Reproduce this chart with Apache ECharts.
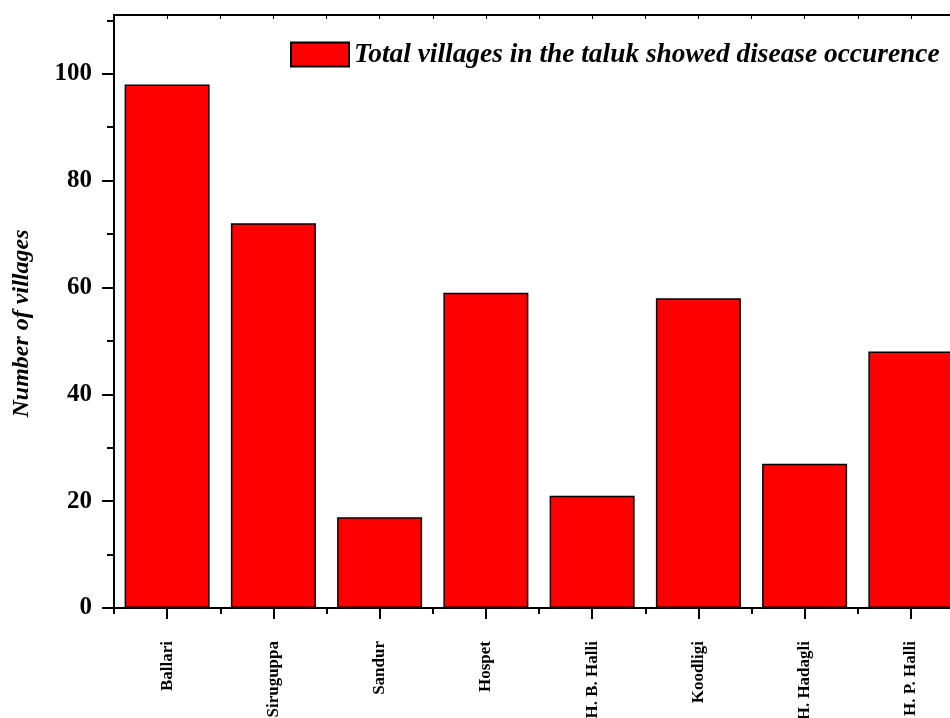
<!DOCTYPE html>
<html>
<head>
<meta charset="utf-8">
<script src="https://cdn.jsdelivr.net/npm/echarts@6/dist/echarts.min.js"></script>
<style>
  html, body { margin: 0; padding: 0; background: #fff; }
  #chart { width: 950px; height: 718px; }
</style>
</head>
<body>
<div id="chart"></div>
<script>
// Taluks of Ballari district and the villages reporting the disease
const taluks = ['Ballari', 'Siruguppa', 'Sandur', 'Hospet', 'H. B. Halli', 'Koodligi', 'H. Hadagli', 'H. P. Halli'];
const villageCounts = [98, 72, 17, 59, 21, 58, 27, 48];
const seriesName = 'Total villages in the taluk showed disease occurence';
const yMajorTicks = [0, 20, 40, 60, 80, 100];
const yMinorTicks = [10, 30, 50, 70, 90, 110];
const yMax = 111;

const serif = '"Liberation Serif", "Times New Roman", serif';
const black = '#000';

const chart = echarts.init(document.getElementById('chart'), null, { renderer: 'canvas' });

const hiddenLabel = { show: false };
const noSplit = { show: false };

chart.setOption({
  backgroundColor: '#fff',
  animation: false,
  // the plot runs past the right edge of the canvas, so it is laid out freely
  grid: { left: 114, top: 15, width: 850, height: 593, containLabel: false, outerBoundsMode: 'none' },
  legend: {
    left: 285,
    top: 36,
    icon: 'rect',
    itemWidth: 58,
    itemHeight: 24,
    itemGap: 4,
    data: [seriesName],
    textStyle: { fontFamily: serif, fontSize: 27.4, fontWeight: 'bold', fontStyle: 'italic', color: black }
  },
  xAxis: [
    {
      type: 'category', data: taluks, position: 'bottom',
      axisLine: { show: true, lineStyle: { color: black, width: 2 } },
      axisTick: { show: true, alignWithLabel: true, length: 11, lineStyle: { color: black, width: 2 } },
      axisLabel: {
        interval: 0, rotate: 90, margin: 33,
        fontFamily: serif, fontSize: 17, fontWeight: 'bold', color: black
      },
      splitLine: noSplit
    },
    {
      type: 'category', data: taluks, position: 'bottom',
      axisLine: { show: false },
      axisTick: { show: true, length: 6, lineStyle: { color: black, width: 2 } },
      axisLabel: hiddenLabel, splitLine: noSplit
    },
    {
      type: 'category', data: taluks, position: 'top',
      axisLine: { show: true, lineStyle: { color: black, width: 2 } },
      axisTick: { show: true, inside: true, alignWithLabel: true, length: 4, lineStyle: { color: black, width: 1 } },
      axisLabel: hiddenLabel, splitLine: noSplit
    },
    {
      type: 'category', data: taluks, position: 'top',
      axisLine: { show: false },
      axisTick: { show: true, inside: true, length: 4, lineStyle: { color: black, width: 1 } },
      axisLabel: hiddenLabel, splitLine: noSplit
    }
  ],
  yAxis: [
    {
      type: 'value', min: 0, max: yMax, position: 'left',
      name: 'Number of villages',
      nameLocation: 'middle',
      nameGap: 80,
      nameRotate: 90,
      nameTextStyle: {
        fontFamily: serif, fontSize: 24, fontWeight: 'bold', fontStyle: 'italic', color: black,
        padding: [0, 24, 0, 0]
      },
      axisLine: { show: true, lineStyle: { color: black, width: 2 } },
      axisTick: { show: true, length: 12, customValues: yMajorTicks, lineStyle: { color: black, width: 2 } },
      axisLabel: {
        customValues: yMajorTicks, margin: 22,
        fontFamily: serif, fontSize: 25, fontWeight: 'bold', color: black
      },
      splitLine: noSplit
    },
    {
      type: 'value', min: 0, max: yMax, position: 'left',
      axisLine: { show: false },
      axisTick: { show: true, length: 7, customValues: yMinorTicks, lineStyle: { color: black, width: 2 } },
      axisLabel: { show: false, customValues: yMinorTicks },
      splitLine: noSplit
    }
  ],
  series: [
    {
      name: seriesName,
      type: 'bar',
      xAxisIndex: 0,
      yAxisIndex: 0,
      data: villageCounts,
      barCategoryGap: '20%',
      itemStyle: { color: '#ff0000', borderColor: black, borderWidth: 1.5 }
    }
  ]
});
</script>
</body>
</html>
